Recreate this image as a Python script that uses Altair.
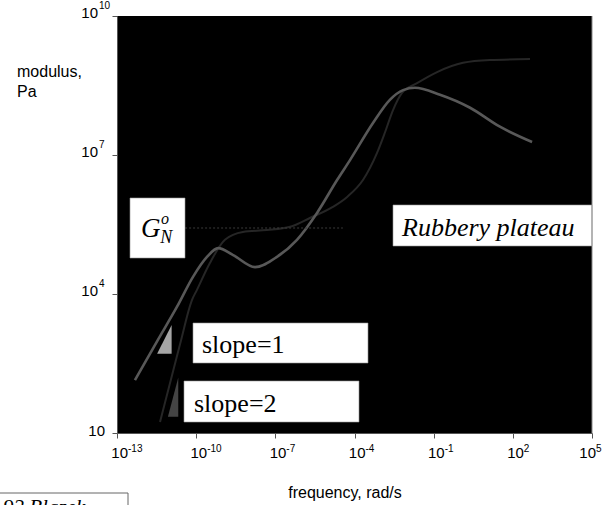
import altair as alt
import pandas as pd

# ---- data (log10 frequency, log10 modulus) ----
gray_logw = [-12.32, -11.45, -10.73, -10.12, -9.59, -9.17, -8.60, -7.77, -6.94, -6.18,
             -5.42, -4.66, -4.17, -3.30, -2.66, -2.16, -1.71, -0.76, 0.38, 1.51, 2.73]
gray_logm = [2.14, 3.01, 3.72, 4.37, 4.80, 4.99, 4.84, 4.58, 4.80, 5.17,
             5.75, 6.46, 6.89, 7.69, 8.19, 8.40, 8.45, 8.30, 8.02, 7.61, 7.28]

dark_logw = [-11.37, -10.61, -10.16, -9.97, -9.48, -8.91, -8.23, -7.32, -6.44, -5.69,
             -4.82, -4.29, -3.68, -3.15, -2.85, -2.54, -2.20, -1.63, -0.87, 0.11, 1.13, 2.65]
dark_logm = [1.24, 2.92, 3.87, 4.09, 4.67, 5.17, 5.34, 5.38, 5.45, 5.64,
             5.88, 6.09, 6.46, 7.04, 7.48, 7.97, 8.34, 8.55, 8.79, 8.99, 9.05, 9.07]

x_tick_exp = [-13, -10, -7, -4, -1, 2, 5]
y_tick_exp = [1, 4, 7, 10]

gray_df = pd.DataFrame({"w": [10 ** v for v in gray_logw], "m": [10 ** v for v in gray_logm]})
dark_df = pd.DataFrame({"w": [10 ** v for v in dark_logw], "m": [10 ** v for v in dark_logm]})
xt_df = pd.DataFrame({"v": [10.0 ** e for e in x_tick_exp], "exp": [str(e) for e in x_tick_exp],
                      "last": [e == x_tick_exp[-1] for e in x_tick_exp]})
yt_df = pd.DataFrame({"v": [10.0 ** e for e in y_tick_exp],
                      "exp": ["" if e == 1 else str(e) for e in y_tick_exp]})

W, H = 475, 417
SANS = "Liberation Sans"
SERIF = "Liberation Serif"

xscale = alt.Scale(type="log", domain=[1e-13, 1e5])
yscale = alt.Scale(type="log", domain=[10, 1e10])
xaxis = alt.Axis(values=[10.0 ** e for e in x_tick_exp], labels=False, title=None, grid=False,
                 tickSize=5, tickColor="#555", domainColor="#555", orient="bottom")
yaxis = alt.Axis(values=[10.0 ** e for e in y_tick_exp], labels=False, title=None, grid=False,
                 tickSize=5, tickColor="#555", domainColor="#555", orient="left")


def X(f):
    return alt.X(f, type="quantitative", scale=xscale, axis=xaxis)


def Y(f):
    return alt.Y(f, type="quantitative", scale=yscale, axis=yaxis)


one = pd.DataFrame({"a": [0]})

dark = alt.Chart(dark_df).mark_line(color="#262626", strokeWidth=2, interpolate="monotone").encode(
    x=X("w"), y=Y("m"))
gray = alt.Chart(gray_df).mark_line(color="#585858", strokeWidth=2.6, interpolate="monotone").encode(
    x=X("w"), y=Y("m"))

# dotted plateau guide
dot_df = pd.DataFrame({"x": [10 ** -10.42], "x2": [10 ** -4.44], "y": [10 ** 5.425]})
dotted = alt.Chart(dot_df).mark_rule(color="#3a3a3a", strokeDash=[2, 2], strokeWidth=1.2).encode(
    x=X("x"), x2="x2", y=Y("y"))

# white annotation boxes
box_df = pd.DataFrame({
    "x": [10 ** -12.507, 10 ** -10.120, 10 ** -10.461, 10 ** -2.541],
    "x2": [10 ** -10.423, 10 ** -3.489, 10 ** -3.830, 10 ** 5.0],
    "y": [10 ** 6.072, 10 ** 3.374, 10 ** 2.122, 10 ** 5.921],
    "y2": [10 ** 4.777, 10 ** 2.511, 10 ** 1.237, 10 ** 5.036],
})
boxes = alt.Chart(box_df).mark_rect(fill="white", stroke="#999", strokeWidth=0.6).encode(
    x=X("x"), x2="x2", y=Y("y"), y2="y2")

# slope triangles
tri1_df = pd.DataFrame({"x": [10 ** -11.48, 10 ** -10.93], "y": [10 ** 2.71, 10 ** 3.33], "y2": [10 ** 2.71, 10 ** 2.71]})
tri2_df = pd.DataFrame({"x": [10 ** -11.07, 10 ** -10.68], "y": [10 ** 1.35, 10 ** 2.19], "y2": [10 ** 1.35, 10 ** 1.35]})
tri1 = alt.Chart(tri1_df).mark_area(color="#a6a6a6", opacity=1).encode(
    x=X("x"), y=alt.Y("y", type="quantitative", scale=yscale, axis=yaxis, stack=None), y2="y2")
tri2 = alt.Chart(tri2_df).mark_area(color="#444444", opacity=1).encode(
    x=X("x"), y=alt.Y("y", type="quantitative", scale=yscale, axis=yaxis, stack=None), y2="y2")


def txt(text, lx, ly, size, style="normal", font=SERIF):
    d = pd.DataFrame({"x": [10 ** lx], "y": [10 ** ly]})
    return alt.Chart(d).mark_text(text=text, align="left", baseline="alphabetic", fontSize=size,
                                  fontStyle=style, font=font, color="black").encode(x=X("x"), y=Y("y"))


t_slope1 = txt("slope=1", -9.779, 2.727, 26)
t_slope2 = txt("slope=2", -10.082, 1.453, 26)
t_rubber = txt("Rubbery plateau", -2.20, 5.252, 26, "italic")
t_G = txt("G", -12.09, 5.231, 27, "italic")
t_o = txt("o", -11.33, 5.52, 16, "italic")
t_N = txt("N", -11.36, 5.101, 18, "italic")

# right border of plot
border = alt.Chart(pd.DataFrame({"x": [1e5]})).mark_rule(color="#888", strokeWidth=1).encode(
    x=X("x"), y=alt.value(0), y2=alt.value(H))

# tick labels
xl_base = alt.Chart(xt_df).transform_filter("!datum.last").mark_text(
    text="10", align="right", dx=11, baseline="alphabetic", fontSize=15, font=SANS, color="black").encode(
    x=X("v"), y=alt.value(H + 25))
xl_exp = alt.Chart(xt_df).transform_filter("!datum.last").mark_text(
    align="left", dx=11, baseline="alphabetic", fontSize=10, font=SANS, color="black").encode(
    x=X("v"), y=alt.value(H + 19), text="exp:N")
xl_base_last = alt.Chart(xt_df).transform_filter("datum.last").mark_text(
    text="10", align="right", dx=4, baseline="alphabetic", fontSize=15, font=SANS, color="black").encode(
    x=X("v"), y=alt.value(H + 25))
xl_exp_last = alt.Chart(xt_df).transform_filter("datum.last").mark_text(
    align="left", dx=4, baseline="alphabetic", fontSize=10, font=SANS, color="black").encode(
    x=X("v"), y=alt.value(H + 19), text="exp:N")
yl_base = alt.Chart(yt_df).transform_filter("datum.exp != ''").mark_text(
    text="10", align="right", baseline="middle", dy=-3, fontSize=15, font=SANS, color="black").encode(
    y=Y("v"), x=alt.value(-19))
yl_plain = alt.Chart(yt_df).transform_filter("datum.exp == ''").mark_text(
    text="10", align="right", baseline="middle", dy=-2, fontSize=15, font=SANS, color="black").encode(
    y=Y("v"), x=alt.value(-12))
yl_exp = alt.Chart(yt_df).transform_filter("datum.exp != ''").mark_text(
    align="left", baseline="middle", dy=-10, fontSize=10, font=SANS, color="black").encode(
    y=Y("v"), x=alt.value(-18), text="exp:N")

# titles
ytitle = alt.Chart(one).mark_text(text=["modulus,", "Pa"], align="left", baseline="alphabetic",
                                  lineHeight=20, fontSize=16, font=SANS, color="black").encode(
    x=alt.value(-100), y=alt.value(61))
xtitle = alt.Chart(one).mark_text(text="frequency, rad/s", align="center", baseline="alphabetic",
                                  fontSize=16, font=SANS, color="black").encode(
    x=alt.value(228), y=alt.value(482))
src_box = alt.Chart(one).mark_rect(fill="white", stroke="#666", strokeWidth=1).encode(
    x=alt.value(-118), x2=alt.value(11), y=alt.value(477), y2=alt.value(500))
src_txt = alt.Chart(one).mark_text(text="92 Blazek", align="left", baseline="alphabetic",
                                   fontSize=21, fontStyle="italic", font=SERIF, color="black").encode(
    x=alt.value(-114), y=alt.value(498))

chart = alt.layer(
    dark, gray, dotted, boxes, tri1, tri2,
    t_slope1, t_slope2, t_rubber, t_G, t_o, t_N, border,
    xl_base, xl_exp, xl_base_last, xl_exp_last, yl_base, yl_plain, yl_exp,
    ytitle, xtitle, src_box, src_txt,
).properties(
    width=W, height=H,
    autosize=alt.AutoSizeParams(type="none"),
    padding={"left": 117, "top": 16, "right": 11, "bottom": 72},
    background="white",
).configure_view(fill="black", strokeWidth=0)

chart.save("out.html", embed_options={"renderer": "svg", "actions": False})
